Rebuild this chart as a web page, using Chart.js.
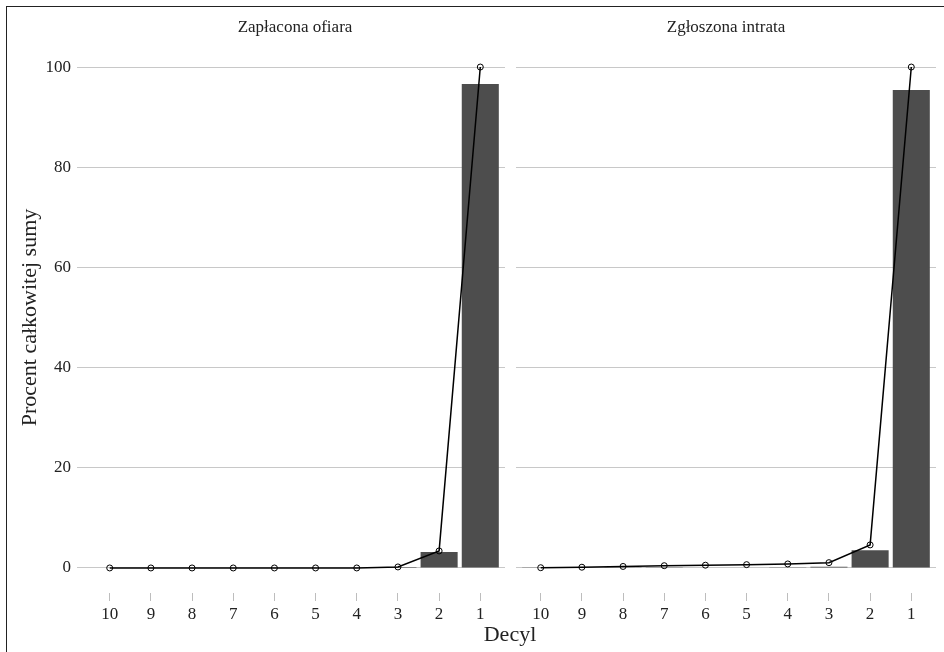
<!DOCTYPE html>
<html lang="pl">
<head>
    <meta charset="UTF-8">
    <meta name="viewport" content="width=device-width, initial-scale=1.0">
    <title>Decyle</title>
</head>
<script src="https://cdn.jsdelivr.net/npm/chart.js"></script>
<style>
body {
    margin: 0;
    width: 944px;
    height: 652px;
    overflow: hidden;
    background: #ffffff;
    position: relative;
    font-family: 'Liberation Serif', 'Times New Roman', serif;
    color: #222;
}

/* outer frame, only left and top edges fall inside the window */
.frame {
    position: absolute;
    left: 6px;
    top: 6px;
    width: 1000px;
    height: 1000px;
    border: 1.5px solid #222;
}

canvas {
    position: absolute;
    top: 0;
}

#leftPanel { left: 0; }
#rightPanel { left: 511px; }

.panel-title {
    position: absolute;
    top: 18px;
    width: 420px;
    font-size: 17px;
    line-height: 17px;
    text-align: center;
}

#xTitle {
    position: absolute;
    left: 310px;
    width: 400px;
    top: 623px;
    font-size: 22px;
    line-height: 22px;
    text-align: center;
}
</style>
<body>
    <div class="frame"></div>
    <canvas id="leftPanel" width="510" height="652"></canvas>
    <canvas id="rightPanel" width="433" height="652"></canvas>
    <div class="panel-title" style="left:85px;">Zapłacona ofiara</div>
    <div class="panel-title" style="left:516px;">Zgłoszona intrata</div>
    <div id="xTitle">Decyl</div>
    <script>
        const decyle = ['10', '9', '8', '7', '6', '5', '4', '3', '2', '1'];
        const ofiaraUdzial = [0, 0, 0, 0, 0, 0, 0, 0.2, 3.2, 96.6];
        const ofiaraSkumulowane = [0, 0, 0, 0, 0, 0, 0, 0.2, 3.4, 100];
        const intrataUdzial = [0.05, 0.1, 0.15, 0.15, 0.1, 0.11, 0.14, 0.26, 3.54, 95.4];
        const intrataSkumulowane = [0.05, 0.15, 0.3, 0.45, 0.55, 0.66, 0.8, 1.06, 4.6, 100];
        const yTicks = [0, 20, 40, 60, 80, 100];

        Chart.defaults.font.family = "'Liberation Serif', 'Times New Roman', serif";
        Chart.defaults.color = '#222';

        function toPoints(values) {
            return values.map((v, i) => ({ x: i + 1, y: v }));
        }

        function drawPanel(canvasId, udzial, skumulowane, showY) {
            const ctx = document.getElementById(canvasId).getContext('2d');
            new Chart(ctx, {
                data: {
                    datasets: [{
                        type: 'line',
                        data: toPoints(skumulowane),
                        borderColor: '#000',
                        borderWidth: 1.5,
                        pointRadius: 3,
                        pointBorderWidth: 1,
                        pointBackgroundColor: 'rgba(255,255,255,0)',
                        pointBorderColor: '#000',
                        order: 0
                    }, {
                        type: 'bar',
                        data: toPoints(udzial),
                        backgroundColor: '#4d4d4d',
                        borderWidth: 0,
                        barPercentage: 0.9,
                        categoryPercentage: 1,
                        order: 1
                    }]
                },
                options: {
                    responsive: false,
                    animation: false,
                    layout: {
                        padding: { top: 42, right: showY ? 5 : 8, left: 0, bottom: 0 }
                    },
                    plugins: {
                        legend: { display: false },
                        tooltip: { enabled: false }
                    },
                    scales: {
                        x: {
                            type: 'linear',
                            min: 0.4,
                            max: 10.6,
                            offset: false,
                            afterBuildTicks: s => { s.ticks = decyle.map((d, i) => ({ value: i + 1 })); },
                            afterFit: s => { s.height = 59; },
                            ticks: {
                                callback: (v, i) => decyle[i],
                                font: { size: 17 },
                                padding: 3,
                                maxRotation: 0,
                                autoSkip: false
                            },
                            grid: {
                                offset: false,
                                drawOnChartArea: false,
                                tickLength: 8,
                                color: '#bdbdbd'
                            },
                            border: { display: false }
                        },
                        y: {
                            min: -5,
                            max: 105,
                            afterBuildTicks: s => { s.ticks = yTicks.map(v => ({ value: v })); },
                            afterFit: s => { s.width = showY ? 85 : 0; },
                            ticks: {
                                display: showY,
                                font: { size: 17 },
                                padding: 6
                            },
                            grid: {
                                color: '#c8c8c8',
                                tickLength: 8,
                                drawTicks: showY
                            },
                            border: { display: false },
                            title: {
                                display: showY,
                                text: 'Procent całkowitej sumy',
                                font: { size: 22 },
                                padding: { top: 17, bottom: 0 }
                            }
                        }
                    }
                }
            });
        }

        drawPanel('leftPanel', ofiaraUdzial, ofiaraSkumulowane, true);
        drawPanel('rightPanel', intrataUdzial, intrataSkumulowane, false);
    </script>
</body>
</html>
